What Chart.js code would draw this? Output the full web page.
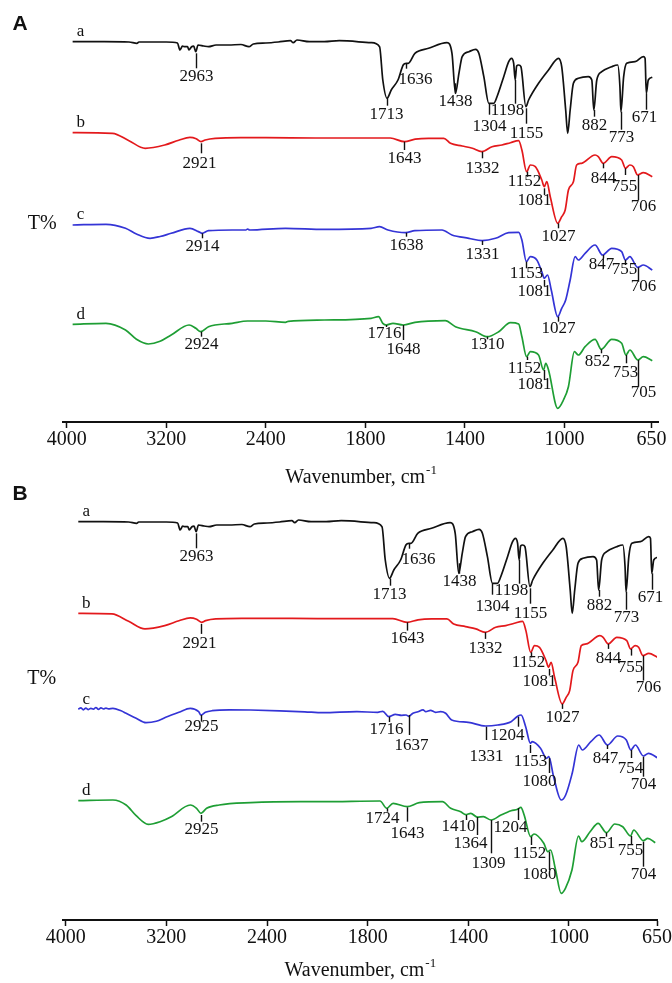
<!DOCTYPE html>
<html>
<head>
<meta charset="utf-8">
<script src="https://cdn.jsdelivr.net/npm/chart.js@4.4.0/dist/chart.umd.min.js"></script>
<style>
  body { margin: 0; background: #fff; width: 672px; height: 983px; position: relative; overflow: hidden; }
  canvas { position: absolute; left: 0; }
  #panelA { top: 0; }
  #panelB { top: 470px; }
</style>
</head>
<body>
<canvas id="panelA" width="672" height="490"></canvas>
<canvas id="panelB" width="672" height="513"></canvas>
<script>
// x tick labels (wavenumber, cm-1)
const tickLabels = [4000, 3200, 2400, 1800, 1400, 1000, 650];

// spectrum a (black), relative transmittance, same in both panels
const aWn = [3953,3700,3500,3436,3420,3200,3110,3091,3070,3050,3030,3018,2997,2980,2963,2945,2900,2861,2800,2700,2600,2536,2500,2400,2300,2202,2180,2150,2050,1965,1905,1777,1743,1730,1713,1696,1669,1648,1636,1628,1601,1546,1472,1452,1438,1424,1411,1384,1357,1344,1324,1304,1284,1271,1244,1224,1213,1204,1198,1192,1184,1175,1155,1144,1104,1064,1024,1011,995,987,977,964,944,904,890,882,870,850,810,786,777,773,762,750,716,683,676,671,663,647];
const aT = [0,0,-0.3,-1.6,-0.3,-0.3,-1.3,-8.3,-4.5,-5,-5,-8.3,-5,-4.5,-10,-3.3,-4.3,-5,-3.3,-3.3,-2.8,-5,-2.3,-1.3,-0.3,1,-1,1.7,0,0,1,-1,-5,-38.3,-56.6,-48.3,-38.3,-23.3,-21.6,-21.6,-11.6,-6.6,-1,-11.6,-51.6,-31.6,-15,-10,-7.6,-11.6,-35,-61.6,-61.6,-55,-35,-20,-16.6,-21.6,-38.3,-24.3,-23.3,-25,-65,-58.3,-41.6,-28.3,-16.6,-25,-68.3,-91.6,-68.3,-41.6,-36.6,-35,-38.3,-68.3,-38.3,-30,-25,-23.3,-45,-70,-35,-21.6,-20,-15,-16.6,-51.6,-38.3,-35.6];
const aPeaks = [2963,1713,1636,1438,1304,1198,1155,882,773,671];

// spectrum b (red), same in both panels
const bWn = [3953,3633,3500,3370,3213,3100,3010,2960,2921,2888,2807,2600,2400,2000,1700,1643,1600,1546,1485,1458,1411,1370,1332,1291,1251,1217,1184,1171,1152,1137,1117,1091,1081,1071,1057,1027,1011,997,984,964,951,931,877,864,844,810,770,755,737,723,706,683,647];
const bT = [0,-0.6,-8,-15.6,-12.3,-7.5,-4.6,-6,-9,-7.3,-5.6,-5,-5,-5.3,-5.3,-9,-6.5,-5.6,-5.6,-10.6,-13.3,-15.6,-19,-14,-12.3,-10,-8,-17.3,-39,-32.3,-34,-47.3,-54,-49,-64,-90.6,-84,-77.3,-57.3,-49,-32.3,-30.6,-22.3,-24,-30.6,-24,-27.3,-35.6,-32.3,-34,-42.3,-40,-44];
const bPeaks = [2921,1643,1332,1152,1081,1027,844,755,706];

// panel A, spectrum c (blue)
const cAWn = [3953,3685,3528,3440,3331,3250,3161,3010,2942,2914,2861,2671,2560,2547,2530,2242,1965,1777,1743,1709,1638,1601,1492,1452,1384,1331,1277,1224,1184,1171,1153,1137,1111,1091,1081,1068,1053,1027,1011,995,977,957,944,917,877,847,810,770,755,737,706,683,647];
const cAT = [0,0.7,-3.3,-9,-13.3,-11.5,-8.3,-3.3,-6.6,-8.3,-5.7,-5,-5,-4,-5,-3.3,-4.3,-3.3,-1.7,-5,-7.7,-5.7,-5,-10,-13.3,-15.7,-13.3,-7.7,-7.3,-15,-36.7,-31.7,-35,-46.7,-53.3,-50,-65,-91.7,-83.3,-75,-55,-31.7,-35,-28.3,-20,-30,-23.3,-26.7,-35,-31.7,-42.3,-40,-45];
const cAPeaks = [2914,1638,1331,1153,1081,1027,847,755,706];

// panel A, spectrum d (green)
const dAWn = [3953,3685,3528,3440,3344,3250,3161,3017,2963,2924,2861,2671,2547,2400,2242,2220,1965,1777,1747,1730,1716,1689,1648,1601,1479,1438,1357,1310,1264,1217,1184,1171,1152,1137,1104,1084,1075,1064,1027,1004,984,960,944,917,877,852,810,770,753,737,705,683,647];
const dAT = [0,1,-5.7,-15,-19.7,-17,-10.7,-0.7,-4,-7.4,-2.4,1,3.3,3.3,2,3,4.3,6,7.6,1,-0.7,1,-0.7,2,3.6,-2.4,-7.4,-12.4,-7.4,1.6,0.3,-12.4,-32.4,-27.4,-30.7,-45.7,-39,-45.7,-84,-75.7,-62.4,-27.4,-30.7,-22.4,-15,-25,-15,-19,-30.7,-25.7,-35.7,-32.4,-36.4];
const dAPeaks = [2924,1716,1648,1310,1152,1081,852,753,705];

// panel B, spectrum c (blue)
const cBWn = [3901,3880,3860,3840,3820,3800,3780,3760,3740,3720,3700,3680,3660,3625,3560,3520,3440,3362,3280,3205,3100,3010,2943,2925,2890,2836,2700,2530,2300,2100,1978,1843,1760,1740,1716,1690,1665,1647,1637,1620,1600,1580,1569,1550,1530,1510,1490,1466,1400,1331,1283,1230,1204,1190,1172,1153,1146,1113,1089,1080,1061,1031,1013,987,961,947,913,880,847,806,772,754,736,704,684,645];
const cBT = [0,1.5,-0.5,1.2,-0.3,1,0.2,1.8,0,1.5,0.3,1.2,0.5,1,-1.5,-4,-9,-13.4,-12,-8,-3,1,-2.4,-5.7,-3,-1.4,-0.5,-0.7,-1.5,-2.5,-3.4,-2.4,-3,-2,-7.4,-5,-6,-5.7,-7,-4,-2.4,-0.5,-2.4,-1,-3,-2.4,-4,-10.7,-13,-16.7,-15.7,-12.4,-7,-5.7,-17.4,-34,-32.4,-39,-49,-47.4,-67.4,-90.7,-85.7,-64,-35.7,-40.7,-32.4,-25.7,-35.7,-26.7,-30.7,-40.7,-35.7,-46.7,-44,-49];
const cBPeaks = [2925,1716,1637,1331,1204,1153,1080,847,754,704];

// panel B, spectrum d (green)
const dBWn = [3901,3625,3520,3440,3344,3250,3161,3010,2960,2925,2880,2780,2530,2130,1978,1751,1724,1699,1643,1595,1503,1470,1430,1410,1390,1364,1340,1309,1270,1230,1204,1191,1178,1152,1139,1100,1084,1073,1053,1031,1014,988,962,949,916,884,851,818,786,755,743,704,687,657];
const dBT = [0,0.7,-4.3,-15,-23.6,-21,-16,-4.3,-7.6,-12.6,-7.6,-4.3,-2,-1,-1,-0.3,-7.6,-2.6,-6,-2,-1,-7.6,-11,-14,-12.6,-16.5,-16,-19.3,-14.3,-10,-8.6,-6.6,-14.3,-36,-33.3,-42.6,-51,-49.3,-69.3,-92.6,-87.6,-69.3,-35.3,-41,-31,-22.6,-32,-23.3,-26,-35.3,-29.3,-40,-37.6,-42];
const dBPeaks = [2925,1724,1643,1410,1364,1309,1204,1152,1080,851,755,704];

// label placement below each spectrum's baseline: [tick top, tick bottom, text dx, text dy]
const aMarks = [[11.6,26.6,0,35],[57,64,-1,73.3],[21.6,27,9,38.3],[41.6,52,0,60],[61.6,73,0,85],[38.3,62,-8,69],[66.6,82,0,91.6],[68.3,75,0,84.3],[70,88,0,95.6],[51.6,68,-2,75.6]];
const bMarks = [[10.6,20.6,-2,30.6],[9,17.3,0,25.6],[19,25.6,0,35.6],[39,44,-3,49],[55.6,62.3,-10,68],[90.6,95.6,0,104],[30.6,35.6,0,45.6],[35.6,42.3,-1,54],[42.3,67.3,5,74]];
const cAMarks = [[8.3,13.3,0,21.7],[7.7,11.7,0,21],[15.7,20,0,30],[36.7,43.3,0,48.3],[55,61.7,-10,66.7],[91.7,96.7,0,103.3],[30,33.3,-2,40],[35,40,-1,45],[42.3,56.7,5,61.7]];
const dAMarks = [[7.4,12.4,0,20.7],[0.7,2.7,-2,9.7],[0.7,15.7,0,25],[12.4,15,0,20.7],[32.4,35.7,-3,44],[45.7,55.7,-10,60.7],[25,29,-4,37.4],[30.7,39,-1,48.4],[35.7,62.4,5,68.4]];
const cBMarks = [[5.7,12.4,0,17.4],[7.4,12.7,-3,20],[5.7,25.7,2,36.7],[17.4,30.7,0,47.4],[7.4,17.4,-11,26.7],[35.7,43.7,0,52.4],[48.7,63.7,-10,72.4],[35.7,39.7,-2,49],[40.7,48.7,-1,59],[47.4,67.4,0,75.7]];
const dBMarks = [[14.3,21,0,29.3],[7.6,11,-5,17.6],[6.6,21,0,32.6],[14.3,19.3,-8,26],[16.3,34.3,-7,43.3],[19.3,52.6,-3,62.6],[7.3,19.3,-8,26.6],[36,44.3,-2,52.6],[51,69.3,-10,74.3],[32,36,-4,42.6],[35.3,44.3,-1,50],[41,66,0,73.6]];

const SERIF = '"Liberation Serif", "Times New Roman", serif';
const INK = '#111111';

// the axis is compressed above 2000 cm-1
function wnToP(w) {
    return w >= 2000 ? (4000 - w) / 800 : 2.5 + (2000 - w) / 400;
}

function spectrum(s, startWn) {
    const pts = [{ x: wnToP(startWn), y: s.offset + s.val[0] }];
    s.wn.forEach((w, i) => {
        if (w < startWn) pts.push({ x: wnToP(w), y: s.offset + s.val[i] });
    });
    return {
        data: pts,
        borderColor: s.color,
        borderWidth: 1.7,
        pointRadius: 0,
        fill: false,
        cubicInterpolationMode: "monotone"
    };
}

const labelsPlugin = {
    id: "labels",
    afterDatasetsDraw(chart, args, opts) {
        const { ctx, chartArea, scales: { x, y } } = chart;
        ctx.save();
        ctx.fillStyle = INK;
        ctx.strokeStyle = INK;
        ctx.textAlign = "center";
        ctx.textBaseline = "middle";

        opts.series.forEach(s => {
            const x0 = x.getPixelForValue(wnToP(opts.startWn));
            ctx.font = "17px " + SERIF;
            ctx.fillText(s.name, x0 + 8, y.getPixelForValue(s.offset) - 10);
            ctx.lineWidth = 1.4;
            s.peaks.forEach((pk, i) => {
                const [t0, t1, dx, dy] = s.marks[i];
                const px = Math.round(x.getPixelForValue(wnToP(pk))) + 0.5;
                ctx.beginPath();
                ctx.moveTo(px, y.getPixelForValue(s.offset - t0));
                ctx.lineTo(px, y.getPixelForValue(s.offset - t1));
                ctx.stroke();
                ctx.fillText(String(pk), px + dx, y.getPixelForValue(s.offset - dy));
            });
        });

        // T% label
        ctx.font = "20px " + SERIF;
        ctx.fillText("T%", chartArea.left - 21, y.getPixelForValue(opts.tY));

        // panel letter
        ctx.font = "bold 21px \"Liberation Sans\", Arial, sans-serif";
        ctx.fillText(opts.letter, 20, 24);

        // axis title with superscript
        const cx = (chartArea.left + chartArea.right) / 2;
        const ty = chart.height - 12;
        ctx.font = "20px " + SERIF;
        const main = "Wavenumber, cm";
        const wMain = ctx.measureText(main).width;
        ctx.font = "13px " + SERIF;
        const wSup = ctx.measureText("-1").width;
        const left = cx - (wMain + wSup) / 2;
        ctx.textAlign = "left";
        ctx.font = "20px " + SERIF;
        ctx.fillText(main, left, ty);
        ctx.font = "13px " + SERIF;
        ctx.fillText("-1", left + wMain + 1, ty - 7);
        ctx.restore();
    }
};

function makePanel(p) {
    new Chart(document.getElementById(p.canvas), {
        type: "line",
        data: { datasets: p.series.map(s => spectrum(s, p.startWn)) },
        options: {
            responsive: false,
            animation: false,
            events: [],
            layout: { padding: { left: p.padL, right: p.padR, top: 0, bottom: 0 } },
            scales: {
                x: {
                    type: "linear",
                    min: p.xMin,
                    max: p.xMax,
                    afterBuildTicks: sc => { sc.ticks = tickLabels.map(w => ({ value: wnToP(w) })); },
                    afterFit: sc => { sc.height = p.axisH; sc.paddingLeft = 0; sc.paddingRight = 0; },
                    ticks: {
                        autoSkip: false,
                        maxRotation: 0,
                        padding: 0,
                        color: INK,
                        font: { family: SERIF, size: 20 },
                        callback: (v, i) => tickLabels[i]
                    },
                    grid: {
                        drawOnChartArea: false,
                        drawTicks: true,
                        tickLength: 6,
                        color: INK,
                        tickColor: INK,
                        tickWidth: 1.5
                    },
                    border: { display: true, color: INK, width: 2 }
                },
                y: { display: false, min: 0, max: p.yMax }
            },
            plugins: {
                legend: { display: false },
                tooltip: { enabled: false },
                labels: { series: p.series, startWn: p.startWn, tY: p.tY, letter: p.letter }
            }
        },
        plugins: [labelsPlugin]
    });
}

makePanel({
    canvas: "panelA", letter: "A", axisH: 68, padL: 63.3, padR: 14,
    xMin: -0.035, xMax: 5.94, yMax: 422, startWn: 3953, tY: 198.7,
    series: [
        { name: "a", wn: aWn, val: aT, offset: 380.3, color: "#111111", peaks: aPeaks, marks: aMarks },
        { name: "b", wn: bWn, val: bT, offset: 289.3, color: "#e3191c", peaks: bPeaks, marks: bMarks },
        { name: "c", wn: cAWn, val: cAT, offset: 197, color: "#3434d6", peaks: cAPeaks, marks: cAMarks },
        { name: "d", wn: dAWn, val: dAT, offset: 97.7, color: "#1e9e34", peaks: dAPeaks, marks: dAMarks }
    ]
});

makePanel({
    canvas: "panelB", letter: "B", axisH: 63, padL: 62.7, padR: 15,
    xMin: -0.03, xMax: 5.875, yMax: 450, startWn: 3900, tY: 241.7,
    series: [
        { name: "a", wn: aWn, val: aT, offset: 398.3, color: "#111111", peaks: aPeaks, marks: aMarks },
        { name: "b", wn: bWn, val: bT, offset: 306.7, color: "#e3191c", peaks: bPeaks, marks: bMarks },
        { name: "c", wn: cBWn, val: cBT, offset: 210.7, color: "#3434d6", peaks: cBPeaks, marks: cBMarks },
        { name: "d", wn: dBWn, val: dBT, offset: 119.3, color: "#1e9e34", peaks: dBPeaks, marks: dBMarks }
    ]
});
</script>
</body>
</html>
